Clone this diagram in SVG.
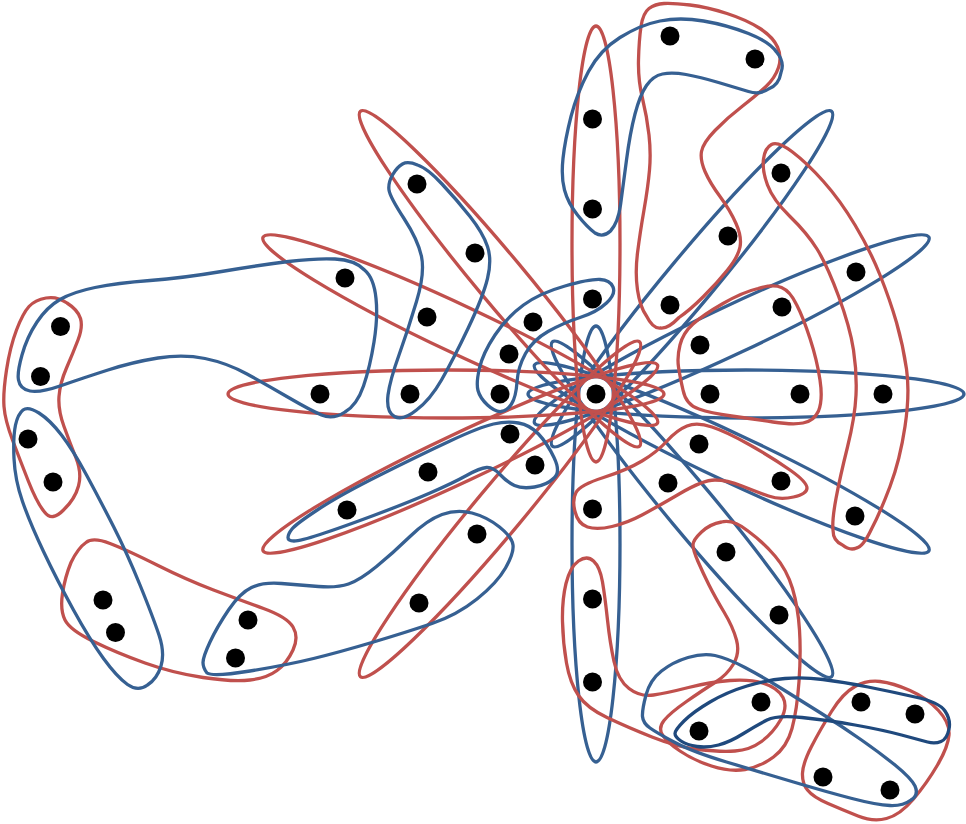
<svg xmlns="http://www.w3.org/2000/svg" width="966" height="824" viewBox="0 0 966 824">
<style>
.e{fill:none;stroke-width:3.3;stroke-linejoin:round}
.r{stroke:#c0504d}
.b{stroke:#366092}
.d{stroke:#1f497d}
.n{fill:#000}
</style>
<rect width="966" height="824" fill="#fff"/>
<g id="connectors">
<g id="spokes">
<ellipse class="e b" cx="746" cy="394" rx="218" ry="24"/>
<ellipse class="e b" cx="746" cy="394" rx="218" ry="24" transform="rotate(-25.2 596 394)"/>
<ellipse class="e b" cx="746" cy="394" rx="218" ry="24" transform="rotate(-50.2 596 394)"/>
<ellipse class="e b" cx="746" cy="394" rx="218" ry="24" transform="rotate(25.2 596 394)"/>
<ellipse class="e b" cx="746" cy="394" rx="218" ry="24" transform="rotate(50.2 596 394)"/>
<ellipse class="e b" cx="746" cy="394" rx="218" ry="24" transform="rotate(90 596 394)"/>
<ellipse class="e r" cx="746" cy="394" rx="218" ry="24" transform="rotate(-90 596 394)"/>
<ellipse class="e r" cx="746" cy="394" rx="218" ry="24" transform="rotate(-129.8 596 394)"/>
<ellipse class="e r" cx="746" cy="394" rx="218" ry="24" transform="rotate(-154.8 596 394)"/>
<ellipse class="e r" cx="746" cy="394" rx="218" ry="24" transform="rotate(180 596 394)"/>
<ellipse class="e r" cx="746" cy="394" rx="218" ry="24" transform="rotate(154.8 596 394)"/>
<ellipse class="e r" cx="746" cy="394" rx="218" ry="24" transform="rotate(129.8 596 394)"/>
</g>
<path id="edge-b-top" class="e r" d="M649 8.5 Q655 4 664 3.5 Q673 3 690 5 Q707 7 727 13.5 Q747 20 760 28.5 Q773 37 777.5 47 Q782 57 778.5 67.5 Q775 78 766 86.5 Q757 95 742 106.5 Q727 118 715 130.5 Q703 143 701.5 151.5 Q700 160 705 171.5 Q710 183 720 196.5 Q730 210 736 223.5 Q742 237 740 247 Q738 257 727.5 270 Q717 283 703.5 296.5 Q690 310 679 317.5 Q668 329 660.5 328 Q653 329 646.5 316 Q640 307 637.5 290 Q635 273 637.5 253 Q640 233 644 210 Q648 187 649.5 170 Q651 153 649 135 Q647 117 642.5 98.5 Q638 80 638.5 60 Q639 40 641 26.5 Q643 13 649 8.5Z"/>
<path id="edge-a-top" class="e b" d="M620 37.5 Q640 25 660 21 Q680 17 703.5 21 Q727 25 748.5 33.5 Q770 42 776.5 52 Q785 62 781 72.5 Q779 85 768.5 89 Q760 95 748.5 91.5 Q737 88 718.5 82.5 Q700 77 686 74.5 Q672 72 662.5 74 Q653 76 646.5 85.5 Q640 95 635 114 Q630 133 626.5 160 Q623 187 620.5 205 Q618 223 610.5 231 Q603 238 595 233 Q587 227 577.5 215 Q568 203 564.5 190 Q561 177 563 158.5 Q565 140 571 116.5 Q577 93 588.5 71.5 Q600 50 620 37.5Z"/>
<path id="edge-c" class="e r" d="M767.5 185 Q762 170 763.5 159 Q765 148 771.5 144.5 Q778 141 792.5 152 Q807 163 823.5 181.5 Q840 200 855 225 Q870 250 880 275 Q890 300 896.5 322.5 Q903 345 906.5 369 Q910 393 905 426.5 Q900 460 890 486.5 Q880 513 871.5 529 Q863 547 856.5 548 Q850 551 842.5 545 Q833 541 833 530 Q832 520 836 498.5 Q840 477 847.5 447 Q855 417 856 395 Q857 373 853.5 350 Q850 327 838.5 296 Q827 265 817 249 Q807 233 790 216.5 Q773 200 767.5 185Z"/>
<path id="edge-d" class="e r" d="M678.5 367 Q677 357 680 345 Q683 333 693 324 Q703 315 723 303.5 Q743 292 758 288.5 Q773 284 781.5 287.5 Q790 291 796.5 304.5 Q803 317 810 338.5 Q817 360 820 380 Q823 400 818.5 411 Q814 421 803 423 Q793 425 773 422 Q753 419 731.5 416 Q710 413 699 409 Q686 405 683 390 Q680 377 678.5 367Z"/>
<path id="edge-e" class="e r" d="M576 492.5 Q580 485 603.5 477.5 Q627 470 642 461 Q657 452 667 441 Q677 430 687 426 Q697 422 712 427 Q727 432 750 445 Q773 458 790 470 Q807 482 807 488 Q807 494 793.5 497 Q780 500 768.5 496 Q757 492 742 486 Q727 480 715 480 Q703 480 680 493.5 Q657 507 642 515 Q627 523 612 526.5 Q597 530 587.5 527 Q578 524 575 511.500 Q572 500 576 492.5Z"/>
<path id="edge-f" class="e r" d="M693 545 Q693 540 701.5 532 Q710 524 721.500 522 Q733 519 748 531 Q763 542 775 556 Q787 570 792.5 588.5 Q798 607 799.5 630 Q801 653 799 681.5 Q797 710 792 728.5 Q787 747 773.5 757 Q760 767 745 769.5 Q730 772 711.5 766 Q693 760 680 751 Q667 742 662.5 735 Q658 728 664 720.5 Q670 713 686.5 701.5 Q703 690 715 682.5 Q727 675 733.5 664 Q740 653 736.5 640 Q733 627 724 612 Q715 597 709 585 Q703 573 698 561.5 Q693 550 693 545Z"/>
<path id="edge-g" class="e r" d="M578.5 561 Q587 555 593.500 561 Q600 567 602.5 582 Q605 597 607.5 620 Q610 643 614 661.5 Q618 680 629 688.5 Q640 697 653.5 695 Q667 693 688.5 687.5 Q710 682 730 680.5 Q750 679 764 683.500 Q778 688 783 697.5 Q788 707 780.500 720 Q773 733 761.5 741.5 Q750 750 735 751 Q720 752 698.5 749.5 Q677 747 652 737 Q627 727 607 717.5 Q587 708 578.5 695.5 Q570 683 566.5 663 Q563 643 562.5 621.5 Q562 600 566 583.5 Q570 567 578.5 561Z"/>
<path id="edge-j" class="e r" d="M855 686.5 Q867 680 880 681.5 Q893 683 910 690.5 Q927 698 938.5 710.5 Q950 723 949 735 Q948 747 937.5 765 Q927 783 913.5 799 Q900 815 886.5 818.5 Q873 822 858 816 Q843 810 828 803.5 Q813 797 807.5 790 Q802 783 802.5 773 Q803 763 811.5 746.5 Q820 730 831.5 711.5 Q843 693 855 686.5Z"/>
<path id="edge-h" class="e b" d="M642.5 716.5 Q642 710 646 695 Q650 680 661.5 671 Q673 662 688 657.5 Q703 653 715 655.5 Q727 658 745 667.5 Q763 677 781.5 688.5 Q800 700 821.5 713.5 Q843 727 861.5 740 Q880 753 895 765 Q911 778 915 786 Q919 795 911 800 Q903 806 890 805.500 Q877 805 852 798.5 Q827 792 793.5 782 Q760 772 726.5 762 Q693 752 675 742.5 Q657 733 650 728 Q643 723 642.5 716.5Z"/>
<path id="edge-i" class="e d" d="M675 733.5 Q675 730 684 721 Q693 712 710 702 Q727 692 747 686 Q767 680 785 678.5 Q803 677 823 679.5 Q843 682 868 687 Q893 692 915 697 Q939 702 945 711 Q951 720 949 729 Q947 739 941 741.500 Q935 744 927.5 742 Q920 740 901.5 735 Q883 730 855 725 Q827 720 802 717.5 Q777 715 767 720 Q757 725 743.5 733.5 Q730 742 718.5 745 Q707 748 697 746.5 Q687 745 681 741 Q675 737 675 733.5Z"/>
<path id="edge-l" class="e r" d="M29 306.5 Q35 300 46 298 Q57 296 67 303 Q78 310 80.500 318.5 Q83 327 78 340 Q73 353 66.5 368 Q60 383 59 396.5 Q58 410 64 426.5 Q70 443 76 458 Q82 473 78.5 486 Q75 499 63.5 510 Q52 522 44.5 512 Q37 503 28.5 481.5 Q20 460 12.5 440 Q5 420 4 406.5 Q3 393 6.5 370 Q10 347 16.5 330 Q23 313 29 306.5Z"/>
<path id="edge-n" class="e r" d="M86 542.500 Q93 537 110 543.500 Q127 550 157 565 Q187 580 213.5 590 Q240 600 263.500 608.5 Q287 617 293 627 Q299 637 293 650 Q287 663 277 670.5 Q267 678 250 680 Q233 682 203 677.5 Q173 673 145 663 Q117 653 93.5 641.5 Q70 630 65 620 Q60 610 62.5 593.5 Q65 577 71 562.5 Q78 548 86 542.500Z"/>
<path id="edge-k" class="e b" d="M23 410 Q28 406 39 413 Q50 420 61.5 435 Q73 450 86.5 475 Q100 500 113.5 526.5 Q127 553 140 585 Q153 617 159 635 Q165 653 161 666 Q157 679 147.5 685 Q138 692 127.5 684.500 Q117 677 103.5 658.5 Q90 640 73.5 610 Q57 580 43.5 551.5 Q30 523 22.5 501.5 Q15 480 14 458.5 Q13 437 15.5 425 Q18 414 23 410Z"/>
<path id="edge-m" class="e b" d="M18.5 380 Q17 373 22 355 Q27 337 37 322 Q47 307 60 299.5 Q73 292 95 287.5 Q117 283 150 280.5 Q183 278 221.5 271.5 Q260 265 288.5 261.5 Q317 258 335 259 Q355 260 364.5 270 Q374 278 376 298.5 Q378 317 374 342 Q370 367 363.5 386 Q357 405 345 412 Q333 420 321.5 415 Q310 410 288.5 397.5 Q267 385 247 374 Q227 363 205 358.5 Q183 354 158 358 Q133 362 108 370 Q83 378 61.5 385.5 Q40 393 30 391 Q20 389 18.5 380Z"/>
<path id="edge-o" class="e b" d="M203 662.5 Q203 657 210 642 Q217 627 228.5 610 Q240 593 251.5 587.5 Q263 582 281.5 583.5 Q300 585 318.5 586.5 Q337 588 348.5 584 Q360 580 376.5 566.5 Q393 553 410 536.5 Q427 520 442 514.5 Q457 509 472 513 Q487 517 499.500 527 Q512 537 513 545 Q514 553 505.500 568 Q497 583 477 599 Q457 615 432 623.5 Q407 632 373.5 642 Q340 652 313.5 658.5 Q287 665 250 671 Q213 677 207 673 Q203 668 203 662.5Z"/>
<path id="edge-p" class="e b" d="M389 190 Q388 183 392.5 175 Q397 167 402.5 164 Q408 161 417.5 165 Q427 168 442 184 Q457 200 470 216.5 Q483 233 487.5 246.5 Q492 260 487.5 278.5 Q483 297 468 328.5 Q453 360 441.5 380 Q430 400 416.5 410 Q403 421 394.500 416.500 Q386 412 388 395 Q390 380 399 355 Q408 330 416.5 301.5 Q425 273 421.5 256.5 Q418 240 404 218.5 Q390 197 389 190Z"/>
<path id="edge-q" class="e b" d="M478 390.5 Q476 383 479.5 368 Q483 353 495 335 Q507 317 523.5 305 Q540 293 565 286 Q590 279 600 279.500 Q610 280 613 287 Q616 294 606.500 303 Q597 312 580 317.5 Q563 323 548 331.5 Q533 340 525.5 353.5 Q518 367 517 382 Q516 397 511.5 404 Q507 411 501 411.500 Q495 412 487.5 405 Q480 398 478 390.5Z"/>
<path id="edge-r" class="e b" d="M288 537.5 Q288 534 292 529 Q296 524 318 509.5 Q340 495 380 475 Q420 455 450 441 Q480 427 493.5 424 Q507 421 518.5 423 Q530 425 538.5 434 Q547 443 554 457.500 Q561 472 554 478 Q547 485 534.5 487 Q522 489 514.5 485.500 Q507 482 500 474.5 Q493 467 486.5 467.5 Q480 468 466.5 475.5 Q453 483 430 493 Q407 503 373.5 515.5 Q340 528 320 534.5 Q300 541 294 541 Q288 541 288 537.5Z"/>
</g>
<g id="n0"><circle class="n" cx="596" cy="394" r="9.5"/></g>
<g id="n1"><circle class="n" cx="710" cy="394" r="9.5"/></g>
<g id="n2"><circle class="n" cx="800" cy="394" r="9.5"/></g>
<g id="n3"><circle class="n" cx="883" cy="394" r="9.5"/></g>
<g id="n4"><circle class="n" cx="700" cy="345" r="9.5"/></g>
<g id="n5"><circle class="n" cx="782" cy="307" r="9.5"/></g>
<g id="n6"><circle class="n" cx="856" cy="272" r="9.5"/></g>
<g id="n7"><circle class="n" cx="670" cy="305" r="9.5"/></g>
<g id="n8"><circle class="n" cx="728" cy="236" r="9.5"/></g>
<g id="n9"><circle class="n" cx="781" cy="173" r="9.5"/></g>
<g id="n10"><circle class="n" cx="592.500" cy="119" r="9.5"/></g>
<g id="n11"><circle class="n" cx="592.500" cy="209" r="9.5"/></g>
<g id="n12"><circle class="n" cx="592.500" cy="299" r="9.5"/></g>
<g id="n13"><circle class="n" cx="670" cy="36" r="9.5"/></g>
<g id="n14"><circle class="n" cx="755" cy="59" r="9.5"/></g>
<g id="n15"><circle class="n" cx="417" cy="184" r="9.5"/></g>
<g id="n16"><circle class="n" cx="475" cy="253" r="9.5"/></g>
<g id="n17"><circle class="n" cx="533" cy="322" r="9.5"/></g>
<g id="n18"><circle class="n" cx="345" cy="278" r="9.5"/></g>
<g id="n19"><circle class="n" cx="427" cy="317" r="9.5"/></g>
<g id="n20"><circle class="n" cx="509" cy="354" r="9.5"/></g>
<g id="n21"><circle class="n" cx="320" cy="394" r="9.5"/></g>
<g id="n22"><circle class="n" cx="410" cy="394" r="9.5"/></g>
<g id="n23"><circle class="n" cx="500" cy="394" r="9.5"/></g>
<g id="n24"><circle class="n" cx="347" cy="510" r="9.5"/></g>
<g id="n25"><circle class="n" cx="428" cy="472" r="9.5"/></g>
<g id="n26"><circle class="n" cx="510" cy="434" r="9.5"/></g>
<g id="n27"><circle class="n" cx="419" cy="603" r="9.5"/></g>
<g id="n28"><circle class="n" cx="477" cy="534" r="9.5"/></g>
<g id="n29"><circle class="n" cx="535" cy="465" r="9.5"/></g>
<g id="n30"><circle class="n" cx="592.500" cy="509" r="9.5"/></g>
<g id="n31"><circle class="n" cx="592.500" cy="599" r="9.5"/></g>
<g id="n32"><circle class="n" cx="592.500" cy="682" r="9.5"/></g>
<g id="n33"><circle class="n" cx="668" cy="483" r="9.5"/></g>
<g id="n34"><circle class="n" cx="726" cy="552" r="9.5"/></g>
<g id="n35"><circle class="n" cx="779" cy="615" r="9.5"/></g>
<g id="n36"><circle class="n" cx="699" cy="444" r="9.5"/></g>
<g id="n37"><circle class="n" cx="781" cy="481" r="9.5"/></g>
<g id="n38"><circle class="n" cx="855" cy="516" r="9.5"/></g>
<g id="n39"><circle class="n" cx="699" cy="731" r="9.5"/></g>
<g id="n40"><circle class="n" cx="761" cy="702" r="9.5"/></g>
<g id="n41"><circle class="n" cx="861" cy="702" r="9.5"/></g>
<g id="n42"><circle class="n" cx="915" cy="714" r="9.5"/></g>
<g id="n43"><circle class="n" cx="823" cy="777" r="9.5"/></g>
<g id="n44"><circle class="n" cx="890" cy="790" r="9.5"/></g>
<g id="n45"><circle class="n" cx="60.500" cy="326.500" r="9.5"/></g>
<g id="n46"><circle class="n" cx="40.500" cy="376.500" r="9.5"/></g>
<g id="n47"><circle class="n" cx="28" cy="439" r="9.5"/></g>
<g id="n48"><circle class="n" cx="53" cy="482" r="9.5"/></g>
<g id="n49"><circle class="n" cx="103" cy="600" r="9.5"/></g>
<g id="n50"><circle class="n" cx="115.500" cy="632.500" r="9.5"/></g>
<g id="n51"><circle class="n" cx="248" cy="620" r="9.5"/></g>
<g id="n52"><circle class="n" cx="235.500" cy="658" r="9.5"/></g>
</svg>
